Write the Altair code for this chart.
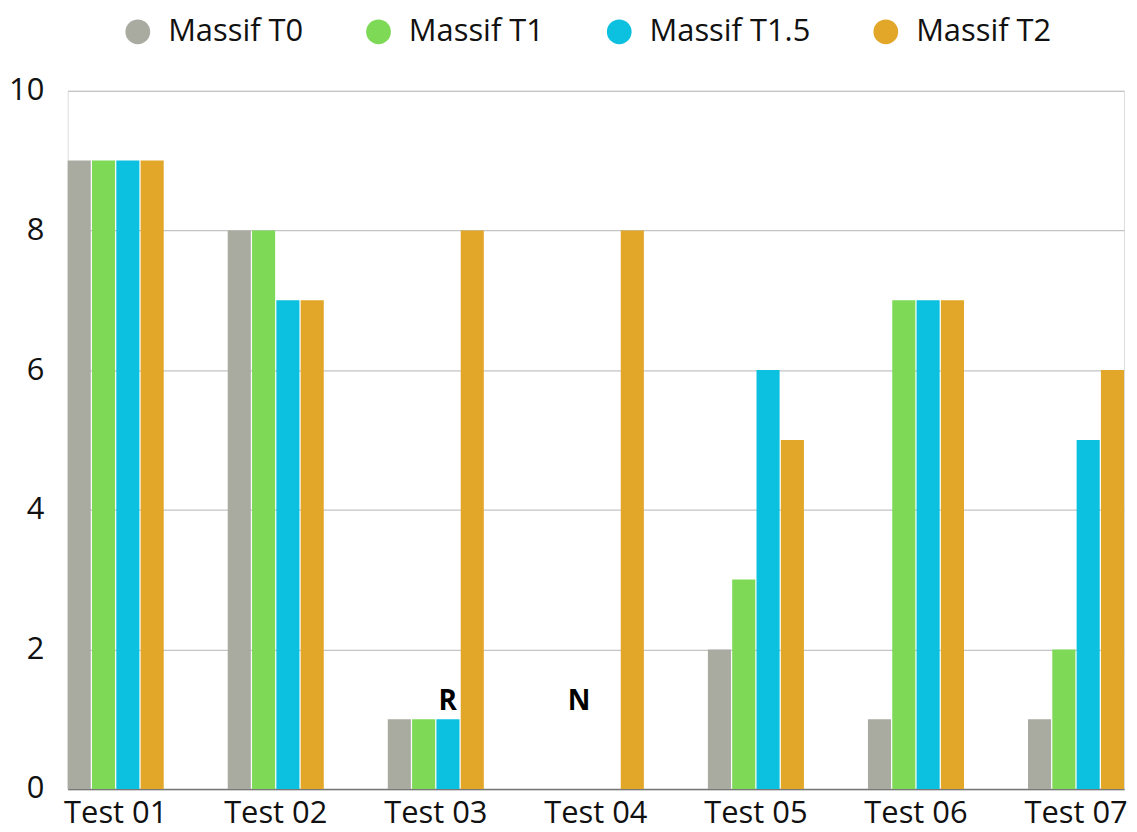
import altair as alt
import pandas as pd

categories = ["Test 01", "Test 02", "Test 03", "Test 04", "Test 05", "Test 06", "Test 07"]
series = ["Massif T0", "Massif T1", "Massif T1.5", "Massif T2"]
t0 = [9, 8, 1, 0, 2, 1, 1]
t1 = [9, 8, 1, 0, 3, 7, 2]
t15 = [9, 7, 1, 0, 6, 7, 5]
t2 = [9, 7, 8, 8, 5, 7, 6]
colors = ["#A9ABA1", "#7ED957", "#0CC0DF", "#E2A629"]

ann_cat = ["Test 03", "Test 04"]
ann_text = ["R", "N"]
ann_val = [1.25, 1.25]
ann_dx = [12, -17]

rows = []
for s, vals in zip(series, [t0, t1, t15, t2]):
    for c, v in zip(categories, vals):
        rows.append({"cat": c, "series": s, "value": v})
df = pd.DataFrame(rows)

FONT = "Open Sans"
FS = 31

xscale = alt.Scale(domain=categories, paddingInner=0.4, paddingOuter=0)

bars = alt.Chart(df).mark_bar().encode(
    x=alt.X("cat:N", scale=xscale, sort=categories,
            axis=alt.Axis(title=None, labelAngle=0, ticks=False, grid=False, domainColor="#777777",
                          domainWidth=1.5, labelFontSize=FS, labelFont=FONT,
                          labelColor="#111111", labelPadding=10)),
    xOffset=alt.XOffset("series:N", sort=series, scale=alt.Scale(paddingInner=0.05, paddingOuter=0)),
    y=alt.Y("value:Q", scale=alt.Scale(domain=[0, 10]),
            axis=alt.Axis(title=None, values=[0, 2, 4, 6, 8, 10], format="d", domain=False, ticks=False,
                          gridColor="#C4C4C4", gridWidth=1.2, labelFontSize=FS, labelFont=FONT,
                          labelColor="#111111", labelPadding=24)),
    color=alt.Color("series:N", sort=series, scale=alt.Scale(domain=series, range=colors),
                    legend=alt.Legend(title=None, orient="none", direction="horizontal",
                                      legendX=55, legendY=-75, symbolType="circle",
                                      symbolSize=620, symbolStrokeWidth=0, labelFontSize=FS,
                                      labelFont=FONT, labelColor="#111111", columnPadding=60,
                                      labelOffset=15, labelLimit=400, symbolOpacity=1)),
)

ann_df = pd.DataFrame({"cat": ann_cat, "text": ann_text, "value": ann_val, "dx": ann_dx})

texts = []
for i in range(len(ann_df)):
    texts.append(
        alt.Chart(ann_df.iloc[[i]]).mark_text(
            fontSize=28, fontWeight="bold", font=FONT, color="#000000", dx=int(ann_dx[i]), baseline="middle"
        ).encode(
            x=alt.X("cat:N", scale=xscale, sort=categories),
            y=alt.Y("value:Q"),
            text="text:N",
        )
    )

chart = alt.layer(bars, *texts).properties(
    width=1062, height=702,
    autosize=alt.AutoSizeParams(type="none"),
    padding={"left": 60, "top": 81, "right": 5, "bottom": 50},
).configure_view(stroke="transparent", strokeWidth=0).configure(background="white")

chart.save("out.html", embed_options={"renderer": "svg", "actions": False})
